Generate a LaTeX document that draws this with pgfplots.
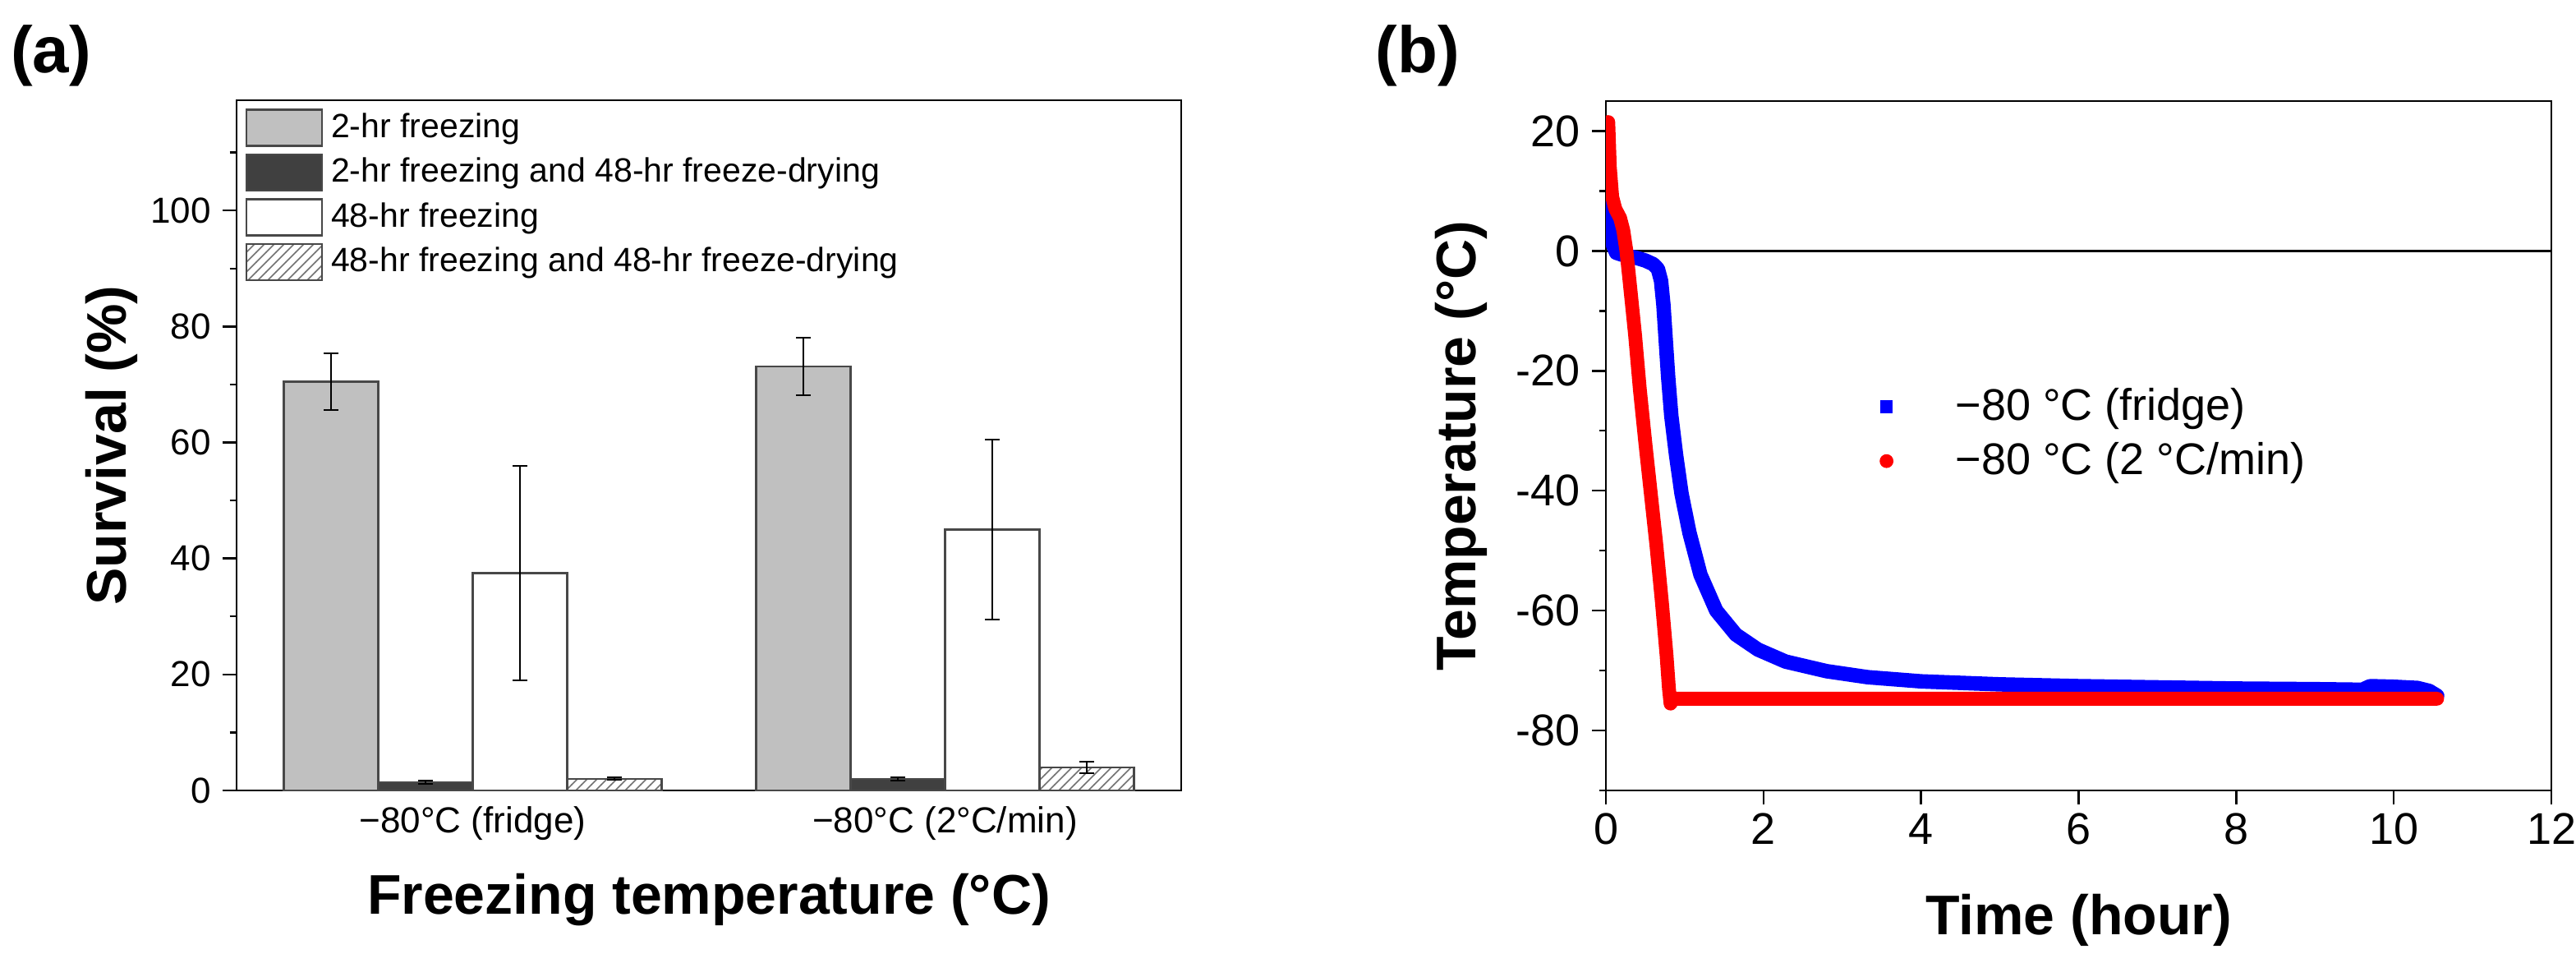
\documentclass[border=0pt]{standalone}
\usepackage{fontspec}
\setmainfont{Liberation Sans}
\usepackage{pgfplots}
\usepackage{pgfplotstable}
\pgfplotsset{compat=1.18}
\usetikzlibrary{patterns}

\definecolor{barGray}{HTML}{C0C0C0}
\definecolor{barDark}{HTML}{404040}
\definecolor{barEdge}{HTML}{484848}

\pgfplotsset{
  mybarlegend/.style={legend image code/.code={\draw[##1] (0pt,-5.5pt) rectangle (23pt,5.5pt); \path[draw=none,fill=none] (25.75pt,0pt);}},
  mymarklegend/.style={legend image code/.code={\path[draw=none,fill=none] (0pt,-4pt) rectangle (21pt,4pt); \draw[##1] plot coordinates {(0pt,0pt)};}},
}

\pgfplotstableread{
t T
0.01 18
0.03 13
0.06 6
0.09 1
0.13 -0.3
0.2 -0.6
0.3 -0.9
0.4 -1.2
0.5 -1.6
0.6 -2.2
0.66 -3
0.7 -5
0.73 -9
0.76 -15
0.79 -21
0.83 -27.5
0.89 -34
0.96 -40.5
1.06 -47
1.2 -54
1.4 -60
1.65 -64
1.93 -66.5
2.28 -68.5
2.8 -70.1
3.32 -71.1
4.0 -71.8
5.0 -72.3
6.0 -72.6
7.0 -72.8
8.0 -73.0
9.0 -73.1
9.6 -73.2
9.7 -72.6
10.0 -72.7
10.3 -72.9
10.45 -73.4
10.55 -74.2
}\fridge

\pgfplotstableread{
t T
0.03 21.5
0.05 14
0.08 9
0.12 7
0.18 5.5
0.22 3.5
0.26 0
0.3 -5
0.37 -14
0.43 -23
0.5 -32
0.57 -40.5
0.64 -49
0.71 -58.5
0.77 -67.5
0.8 -73
0.82 -75.5
0.86 -74.7
10.55 -74.7
}\ramp

\begin{document}
\begin{tikzpicture}
\path[use as bounding box] (0,0) rectangle (784pt,292.75pt);
\node[font=\bfseries\fontsize{20}{24}\selectfont] at (15.5pt,275.9pt) {(a)};
\node[font=\bfseries\fontsize{20}{24}\selectfont] at (431.5pt,275.9pt) {(b)};

\begin{axis}[
  at={(72pt,52.25pt)}, anchor=south west,
  scale only axis, width=287.5pt, height=210pt,
  ybar, bar width=0.2,
  xmin=0.5, xmax=2.5, ymin=0, ymax=119,
  xtick={1,2},
  xticklabels={−80°C (fridge),−80°C (2°C/min)},
  ytick={0,20,...,100},
  minor ytick={10,30,50,70,90,110},
  tick align=outside, xtick pos=bottom, ytick pos=left,
  major tick length=4.25pt, minor tick length=2.1pt,
  xtick style={draw=none},
  tick style={black, line width=0.6pt},
  axis line style={line width=0.6pt},
  /pgf/number format/assume math mode=true,
  tick label style={font=\fontsize{11}{13}\selectfont},
  xticklabel style={yshift=2.8pt},
  label style={font=\bfseries\fontsize{17}{20}\selectfont},
  xlabel={Freezing temperature (°C)},
  ylabel={Survival (\%)},
  xlabel style={at={(axis description cs:0.5,-0.1583)}, anchor=center},
  ylabel style={at={(axis description cs:-0.1322,0.5)}, anchor=center},
  legend cell align=left,
  legend style={at={(axis description cs:0.00957,0.9876)}, anchor=north west,
    draw=none, fill=none, inner sep=0pt, outer sep=0pt, row sep=2pt,
    column sep=0pt, nodes={inner sep=0pt},
    font=\fontsize{10.25}{12}\selectfont},
  error bars/y dir=both, error bars/y explicit,
  error bars/error bar style={black, line width=0.5pt},
  error bars/error mark options={rotate=90, black, mark size=2.15pt, line width=0.5pt},
]
\addplot[fill=barGray, draw=barEdge, line width=0.6pt, bar shift=-0.3, mybarlegend]
  coordinates {(1,70.5) +- (0,4.85) (2,73.1) +- (0,5.0)};
\addlegendentry{2-hr freezing}
\addplot[fill=barDark, draw=barEdge, line width=0.6pt, bar shift=-0.1, mybarlegend]
  coordinates {(1,1.4) +- (0,0.3) (2,2.0) +- (0,0.3)};
\addlegendentry{2-hr freezing and 48-hr freeze-drying}
\addplot[fill=white, draw=barEdge, line width=0.6pt, bar shift=0.1, mybarlegend]
  coordinates {(1,37.5) +- (0,18.5) (2,45.0) +- (0,15.5)};
\addlegendentry{48-hr freezing}
\addplot[pattern=north east lines, pattern color=black!55, draw=barEdge, line width=0.6pt, bar shift=0.3, mybarlegend]
  coordinates {(1,2.0) +- (0,0.2) (2,4.0) +- (0,1.0)};
\addlegendentry{48-hr freezing and 48-hr freeze-drying}
\end{axis}

\begin{axis}[
  at={(488.75pt,52.25pt)}, anchor=south west,
  scale only axis, width=287.75pt, height=209.75pt,
  xmin=0, xmax=12, ymin=-90, ymax=25,
  xtick={0,2,...,12},
  ytick={-80,-60,...,20},
  minor ytick={-90,-70,-50,-30,-10,10},
  tick align=outside, xtick pos=bottom, ytick pos=left,
  major tick length=4.25pt, minor tick length=2.1pt,
  tick style={black, line width=0.6pt},
  axis line style={line width=0.6pt},
  /pgf/number format/assume math mode=true,
  tick label style={font=\fontsize{13.5}{16}\selectfont},
  xticklabel style={yshift=0.8pt},
  label style={font=\bfseries\fontsize{17}{20}\selectfont},
  xlabel={Time (hour)},
  ylabel={Temperature (°C)},
  xlabel style={at={(axis description cs:0.5,-0.1883)}, anchor=center},
  ylabel style={at={(axis description cs:-0.153,0.5)}, anchor=center},
  legend cell align=left,
  legend style={at={(axis description cs:0.2902,0.5173)}, anchor=west,
    draw=none, fill=none, inner sep=0pt, outer sep=0pt, row sep=5.3pt,
    column sep=0pt, nodes={inner sep=0pt},
    font=\fontsize{13.5}{16}\selectfont},
]
\addplot[black, line width=0.6pt, forget plot] coordinates {(0,0) (12,0)};
\addplot[blue, line width=4.4pt, line join=round, line cap=round, forget plot] table[x=t,y=T] {\fridge};
\addplot[red, line width=4.2pt, line join=round, line cap=round, forget plot] table[x=t,y=T] {\ramp};
\addlegendimage{only marks, mark=square*, blue, mark size=1.75pt, mymarklegend}
\addlegendentry{−80 °C (fridge)}
\addlegendimage{only marks, mark=*, red, mark size=1.9pt, mymarklegend}
\addlegendentry{−80 °C (2 °C/min)}
\end{axis}
\end{tikzpicture}
\end{document}
